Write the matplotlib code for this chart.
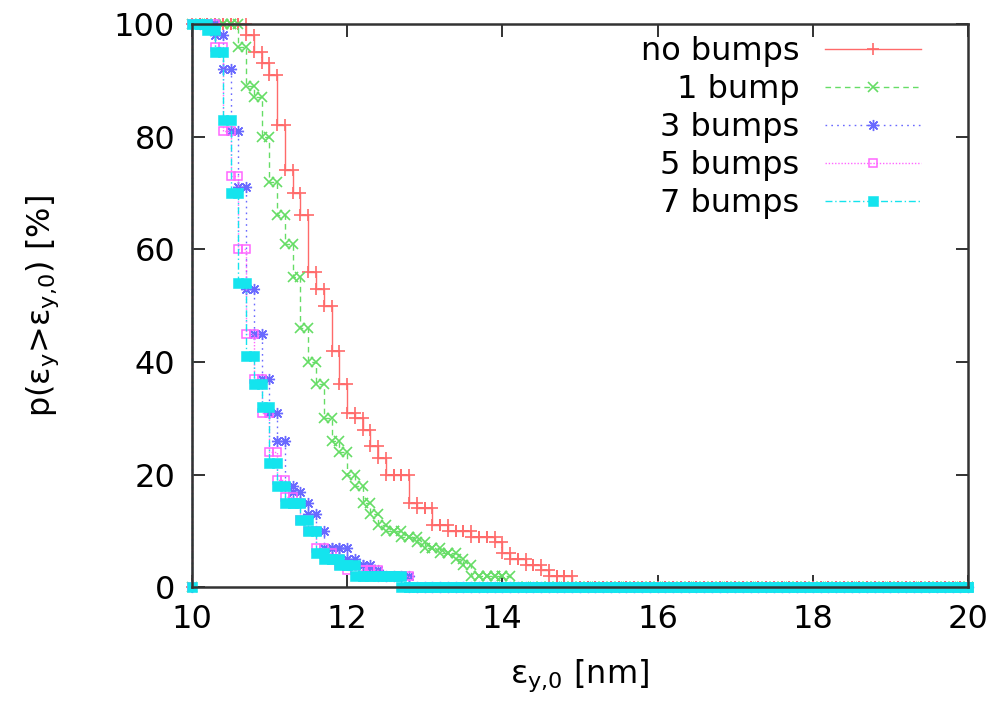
import numpy as np
import matplotlib
matplotlib.use("Agg")
import matplotlib.pyplot as plt

# sampling grid of the threshold emittance eps_y,0 [nm]
eps_grid = np.round(np.linspace(10.0, 20.0, 101), 1)

# p(eps_y > eps_y,0) [%] read at each grid value starting at 10.0 (zeros afterwards)
p_no_bumps = [100, 100, 100, 100, 100, 100, 100, 98, 95, 93, 91, 82, 74, 70, 66, 56,
              53, 50, 42, 36, 31, 30, 28, 25, 23, 20, 20, 20, 15, 14, 14, 11, 11, 10,
              10, 10, 9, 9, 9, 8, 6, 5, 5, 4, 4, 3, 2, 2, 2]
p_1_bump = [100, 100, 100, 100, 100, 100, 96, 89, 87, 80, 72, 66, 61, 55, 46, 40,
            36, 30, 26, 24, 20, 18, 15, 13, 11, 10, 10, 9, 9, 8, 7, 7, 6, 6, 5, 4,
            2, 2, 2, 2, 2]
p_3_bumps = [100, 100, 100, 98, 92, 81, 71, 53, 45, 37, 31, 26, 18, 17, 15, 13, 10,
             7, 7, 7, 5, 4, 4, 3, 2, 2, 2, 2]
p_5_bumps = [100, 100, 100, 96, 81, 73, 60, 45, 37, 31, 24, 19, 16, 15, 12, 10, 7,
             6, 5, 4, 3, 3, 3, 3, 2, 2, 2, 2]
p_7_bumps = [100, 100, 99, 95, 83, 70, 54, 41, 36, 32, 22, 18, 15, 15, 12, 10, 6,
             5, 5, 4, 4, 2, 2, 2, 2, 2, 2]

labels = ["no bumps", "1 bump", "3 bumps", "5 bumps", "7 bumps"]
series = [p_no_bumps, p_1_bump, p_3_bumps, p_5_bumps, p_7_bumps]


def staircase(vals):
    full = list(vals) + [0] * (len(eps_grid) - len(vals))
    xs, ys = [], []
    prev = 0
    for x, y in zip(eps_grid, full):
        xs += [x, x]
        ys += [prev, y]
        prev = y
    return xs, ys


plt.rcParams['font.family'] = ['DejaVu Sans']
plt.rcParams['mathtext.fontset'] = 'dejavusans'

fig = plt.figure(figsize=(9.99, 7.05), dpi=100)
ax = fig.add_axes([0.192, 0.167, 0.777, 0.799])

styles = [
    dict(color='#ff6a6a', ls='-', marker='+', ms=9, mew=1.2, mfc='none'),
    dict(color='#66dd66', ls=(0, (4, 3)), marker='x', ms=7, mew=1.2, mfc='none'),
    dict(color='#6a6aff', ls=(0, (1.2, 3)), marker=(8, 2, 0), ms=8, mew=1.0, mfc='none'),
    dict(color='#ff66ff', ls=(0, (1, 1.3)), marker='s', ms=6, mew=1.1, mfc='none'),
    dict(color='#14e4ee', ls=(0, (5, 2, 1, 2)), marker='s', ms=6.8, mew=0.4, mfc='#14e4ee'),
]

handles = []
for vals, lab, st in zip(series, labels, styles):
    xs, ys = staircase(vals)
    h, = ax.plot(xs, ys, label=lab, lw=1.0, clip_on=False, **st)
    handles.append(h)

ax.set_xlim(10, 20)
ax.set_ylim(0, 100)
ax.set_xticks([10, 12, 14, 16, 18, 20])
ax.set_yticks([0, 20, 40, 60, 80, 100])
ax.tick_params(direction='in', length=9, width=1.3, top=True, right=True,
               labelsize=23, colors='#222222', labelcolor='black')
ax.tick_params(axis='x', pad=12)
ax.tick_params(axis='y', pad=12)
for sp in ax.spines.values():
    sp.set_linewidth(1.8)
    sp.set_color('#333333')
    sp.set_zorder(10)

ax.set_xlabel(r'ε$_{\mathregular{y{,}0}}$ [nm]', fontsize=23, labelpad=16)
ax.set_ylabel(r'p(ε$_{\mathregular{y}}$>ε$_{\mathregular{y{,}0}}$) [%]', fontsize=23,
              labelpad=38)

leg = ax.legend(handles=handles, loc='upper right', bbox_to_anchor=(0.968, 1.018),
                frameon=False, markerfirst=False, numpoints=1, fontsize=23,
                handlelength=3.0, handletextpad=0.8, labelspacing=0.22,
                borderpad=0.2)

fig.savefig('out.png', dpi=100)
